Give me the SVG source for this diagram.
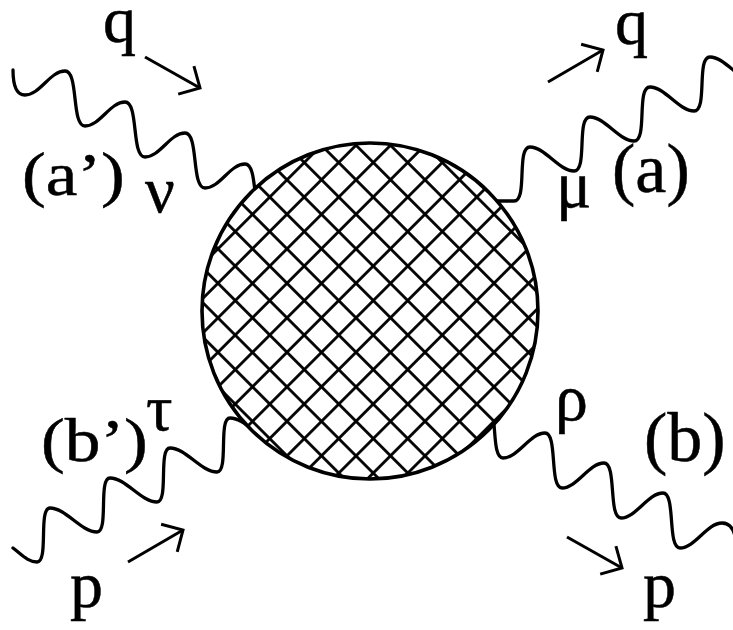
<svg xmlns="http://www.w3.org/2000/svg" width="733" height="630" viewBox="0 0 733 630">
  <style>
    .wave { fill: none; stroke: #000; stroke-width: 3.3; stroke-linecap: round; stroke-linejoin: round; }
    .arrow { fill: none; stroke: #000; stroke-width: 3; marker-end: url(#vhead); }
    .lbl { font-family: "Liberation Serif", "Times New Roman", serif; fill: #000; stroke: #000; stroke-width: 0.5; }
    .big { font-size: 66px; }
    .paren { font-size: 70px; }
    .prime { font-size: 62px; }
  </style>
  <defs>
    <marker id="vhead" markerUnits="userSpaceOnUse" markerWidth="40" markerHeight="40" viewBox="-20 -20 40 40" refX="0" refY="0" orient="auto">
      <path d="M-16,-16 L0,0 L-16,16" fill="none" stroke="#000" stroke-width="3" stroke-linejoin="miter"/>
    </marker>
    <pattern id="hatch" patternUnits="userSpaceOnUse" width="24.4" height="24.4" patternTransform="translate(356 283.3) rotate(45) translate(-12.2 -12.2)">
      <rect x="0" y="10.8" width="24.4" height="2.8" fill="#000"/>
      <rect x="10.8" y="0" width="2.8" height="24.4" fill="#000"/>
    </pattern>
  </defs>

  <g id="connectors">
    <path id="line-a-prime" class="wave" d="M13,70 C13,88 17,95 25,95 c15,0 25,-24 40,-24 c14,0 6,55 20,55 c15,0 25,-24 40,-24 c14,0 6,55 20,55 c15,0 25,-24 40,-24 c14,0 6,55 20,55 c15,0 25,-24 40,-24 c14,0 6,55 20,55"/>
    <path id="line-a" class="wave" d="M490,201 H514 c14,0 2,-54 16,-54 c15,0 29,24 44,24 c14,0 2,-54 16,-54 c15,0 29,24 44,24 c14,0 2,-54 16,-54 c15,0 29,24 44,24 c14,0 2,-54 16,-54 c15,0 29,24 44,24"/>
    <path id="line-b-prime" class="wave" d="M13,548 C22,555 28,562 37,562 c12,0 1,-54 13,-54 c16,0 31,24 47,24 c12,0 1,-54 13,-54 c16,0 31,24 47,24 c12,0 1,-54 13,-54 c16,0 31,24 47,24 c12,0 1,-54 13,-54 c16,0 31,24 47,24"/>
    <path id="line-b" class="wave" d="M486,403 c13,0 4,55 17,55 c15,0 27,-25 42,-25 c13,0 4,55 17,55 c15,0 27,-25 42,-25 c13,0 4,55 17,55 c15,0 27,-25 42,-25 c13,0 4,55 17,55 c15,0 27,-25 42,-25 c9,0 13,8 14,20"/>
  </g>

  <g id="blob">
    <circle cx="370" cy="311" r="168" fill="#fff"/>
    <circle cx="370" cy="311" r="168" fill="url(#hatch)" stroke="#000" stroke-width="3.6"/>
  </g>

  <g id="momentum-arrows">
    <path class="arrow" d="M145,57 L200,88"/>
    <path class="arrow" d="M548,82 L603,50"/>
    <path class="arrow" d="M128,562 L183,530"/>
    <path class="arrow" d="M567,537 L622,568"/>
  </g>

  <g id="labels">
    <text class="lbl big" x="103" y="42">q</text>
    <text class="lbl big" x="615" y="44">q</text>
    <text class="lbl big" x="70" y="607">p</text>
    <text class="lbl big" x="643" y="607">p</text>
    <text class="lbl prime" transform="translate(22 195) scale(1.15 1)">(a’)</text>
    <text class="lbl paren" x="612" y="192">(a)</text>
    <text class="lbl prime" transform="translate(41 461) scale(1.15 1)">(b’)</text>
    <text class="lbl paren" x="644" y="461">(b)</text>
    <text class="lbl big" x="145" y="212">ν</text>
    <text class="lbl big" x="556" y="207">μ</text>
    <text class="lbl big" x="146" y="430">τ</text>
    <text class="lbl big" x="555" y="420">ρ</text>
  </g>
</svg>
